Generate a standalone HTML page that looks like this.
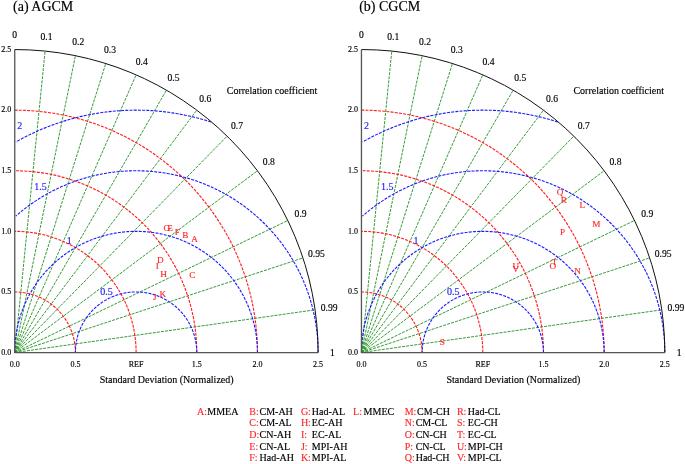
<!DOCTYPE html>
<html><head><meta charset="utf-8"><style>
html,body{margin:0;padding:0;background:#fff;}
svg{display:block;}
svg{font-family:"Liberation Serif", "Times New Roman", serif;fill:#000;}
</style></head><body>
<svg width="685" height="464" viewBox="0 0 685 464">
<line x1="14.75" y1="352.55" x2="45.09" y2="51.07" stroke="#2a962a" stroke-width="0.95" stroke-dasharray="3,1.1"/>
<line x1="14.75" y1="352.55" x2="75.42" y2="55.67" stroke="#2a962a" stroke-width="0.95" stroke-dasharray="3,1.1"/>
<line x1="14.75" y1="352.55" x2="105.76" y2="63.51" stroke="#2a962a" stroke-width="0.95" stroke-dasharray="3,1.1"/>
<line x1="14.75" y1="352.55" x2="136.10" y2="74.85" stroke="#2a962a" stroke-width="0.95" stroke-dasharray="3,1.1"/>
<line x1="14.75" y1="352.55" x2="166.44" y2="90.14" stroke="#2a962a" stroke-width="0.95" stroke-dasharray="3,1.1"/>
<line x1="14.75" y1="352.55" x2="196.77" y2="110.15" stroke="#2a962a" stroke-width="0.95" stroke-dasharray="3,1.1"/>
<line x1="14.75" y1="352.55" x2="227.11" y2="136.16" stroke="#2a962a" stroke-width="0.95" stroke-dasharray="3,1.1"/>
<line x1="14.75" y1="352.55" x2="257.45" y2="170.75" stroke="#2a962a" stroke-width="0.95" stroke-dasharray="3,1.1"/>
<line x1="14.75" y1="352.55" x2="287.79" y2="220.48" stroke="#2a962a" stroke-width="0.95" stroke-dasharray="3,1.1"/>
<line x1="14.75" y1="352.55" x2="302.96" y2="257.94" stroke="#2a962a" stroke-width="0.95" stroke-dasharray="3,1.1"/>
<line x1="14.75" y1="352.55" x2="315.09" y2="309.81" stroke="#2a962a" stroke-width="0.95" stroke-dasharray="3,1.1"/>
<path d="M75.42,352.55 A60.67,60.60 0 0 0 14.75,291.95" fill="none" stroke="#ff1a1a" stroke-width="1.1" stroke-dasharray="3,1.2"/>
<path d="M136.10,352.55 A121.35,121.20 0 0 0 14.75,231.35" fill="none" stroke="#ff1a1a" stroke-width="1.1" stroke-dasharray="3,1.2"/>
<path d="M196.77,352.55 A182.02,181.80 0 0 0 14.75,170.75" fill="none" stroke="#ff1a1a" stroke-width="1.1" stroke-dasharray="3,1.2"/>
<path d="M257.45,352.55 A242.70,242.40 0 0 0 14.75,110.15" fill="none" stroke="#ff1a1a" stroke-width="1.1" stroke-dasharray="3,1.2"/>
<path d="M196.77,352.55 L196.77,352.07 L196.77,351.60 L196.76,351.12 L196.75,350.65 L196.73,350.17 L196.71,349.70 L196.68,349.22 L196.66,348.74 L196.62,348.27 L196.59,347.80 L196.55,347.32 L196.51,346.85 L196.46,346.37 L196.41,345.90 L196.35,345.43 L196.30,344.95 L196.23,344.48 L196.17,344.01 L196.10,343.54 L196.03,343.07 L195.95,342.60 L195.87,342.13 L195.79,341.66 L195.70,341.19 L195.61,340.73 L195.51,340.26 L195.42,339.80 L195.31,339.33 L195.21,338.87 L195.10,338.40 L194.99,337.94 L194.87,337.48 L194.75,337.02 L194.62,336.56 L194.50,336.10 L194.37,335.64 L194.23,335.19 L194.09,334.73 L193.95,334.28 L193.81,333.82 L193.66,333.37 L193.50,332.92 L193.35,332.47 L193.19,332.02 L193.02,331.58 L192.86,331.13 L192.69,330.68 L192.51,330.24 L192.34,329.80 L192.16,329.36 L191.97,328.92 L191.78,328.48 L191.59,328.05 L191.40,327.61 L191.20,327.18 L191.00,326.75 L190.80,326.32 L190.59,325.89 L190.38,325.46 L190.16,325.04 L189.94,324.61 L189.72,324.19 L189.50,323.77 L189.27,323.36 L189.04,322.94 L188.80,322.53 L188.57,322.11 L188.33,321.70 L188.08,321.29 L187.83,320.89 L187.58,320.48 L187.33,320.08 L187.07,319.68 L186.81,319.28 L186.55,318.88 L186.28,318.49 L186.01,318.10 L185.74,317.70 L185.47,317.32 L185.19,316.93 L184.91,316.55 L184.62,316.16 L184.33,315.79 L184.04,315.41 L183.75,315.03 L183.45,314.66 L183.15,314.29 L182.85,313.92 L182.55,313.56 L182.24,313.19 L181.93,312.83 L181.61,312.47 L181.30,312.12 L180.98,311.77 L180.66,311.41 L180.33,311.07 L180.00,310.72 L179.67,310.38 L179.34,310.04 L179.00,309.70 L178.67,309.36 L178.32,309.03 L177.98,308.70 L177.63,308.37 L177.29,308.05 L176.94,307.73 L176.58,307.41 L176.23,307.09 L175.87,306.78 L175.51,306.47 L175.14,306.16 L174.78,305.86 L174.41,305.55 L174.04,305.26 L173.66,304.96 L173.29,304.67 L172.91,304.38 L172.53,304.09 L172.15,303.80 L171.76,303.52 L171.38,303.25 L170.99,302.97 L170.60,302.70 L170.20,302.43 L169.81,302.16 L169.41,301.90 L169.01,301.64 L168.61,301.38 L168.21,301.13 L167.80,300.88 L167.40,300.63 L166.99,300.39 L166.57,300.15 L166.16,299.91 L165.75,299.68 L165.33,299.45 L164.91,299.22 L164.49,298.99 L164.07,298.77 L163.65,298.56 L163.22,298.34 L162.79,298.13 L162.36,297.92 L161.93,297.72 L161.50,297.52 L161.07,297.32 L160.63,297.12 L160.20,296.93 L159.76,296.75 L159.32,296.56 L158.88,296.38 L158.44,296.21 L157.99,296.03 L157.55,295.86 L157.10,295.70 L156.65,295.53 L156.20,295.37 L155.75,295.22 L155.30,295.06 L154.85,294.92 L154.40,294.77 L153.94,294.63 L153.48,294.49 L153.03,294.36 L152.57,294.23 L152.11,294.10 L151.65,293.97 L151.19,293.85 L150.73,293.74 L150.26,293.62 L149.80,293.52 L149.34,293.41 L148.87,293.31 L148.40,293.21 L147.94,293.11 L147.47,293.02 L147.00,292.94 L146.53,292.85 L146.06,292.77 L145.59,292.70 L145.12,292.62 L144.65,292.55 L144.18,292.49 L143.70,292.43 L143.23,292.37 L142.76,292.32 L142.28,292.27 L141.81,292.22 L141.34,292.18 L140.86,292.14 L140.39,292.10 L139.91,292.07 L139.43,292.04 L138.96,292.02 L138.48,292.00 L138.01,291.98 L137.53,291.97 L137.05,291.96 L136.58,291.95 L136.10,291.95 L135.62,291.95 L135.15,291.96 L134.67,291.97 L134.19,291.98 L133.72,292.00 L133.24,292.02 L132.77,292.04 L132.29,292.07 L131.81,292.10 L131.34,292.14 L130.86,292.18 L130.39,292.22 L129.92,292.27 L129.44,292.32 L128.97,292.37 L128.50,292.43 L128.02,292.49 L127.55,292.55 L127.08,292.62 L126.61,292.70 L126.14,292.77 L125.67,292.85 L125.20,292.94 L124.73,293.02 L124.26,293.11 L123.80,293.21 L123.33,293.31 L122.86,293.41 L122.40,293.52 L121.94,293.62 L121.47,293.74 L121.01,293.85 L120.55,293.97 L120.09,294.10 L119.63,294.23 L119.17,294.36 L118.72,294.49 L118.26,294.63 L117.80,294.77 L117.35,294.92 L116.90,295.06 L116.45,295.22 L116.00,295.37 L115.55,295.53 L115.10,295.70 L114.65,295.86 L114.21,296.03 L113.76,296.21 L113.32,296.38 L112.88,296.56 L112.44,296.75 L112.00,296.93 L111.57,297.12 L111.13,297.32 L110.70,297.52 L110.27,297.72 L109.84,297.92 L109.41,298.13 L108.98,298.34 L108.55,298.56 L108.13,298.77 L107.71,298.99 L107.29,299.22 L106.87,299.45 L106.45,299.68 L106.04,299.91 L105.63,300.15 L105.21,300.39 L104.80,300.63 L104.40,300.88 L103.99,301.13 L103.59,301.38 L103.19,301.64 L102.79,301.90 L102.39,302.16 L102.00,302.43 L101.60,302.70 L101.21,302.97 L100.82,303.25 L100.44,303.52 L100.05,303.80 L99.67,304.09 L99.29,304.38 L98.91,304.67 L98.54,304.96 L98.16,305.26 L97.79,305.55 L97.42,305.86 L97.06,306.16 L96.69,306.47 L96.33,306.78 L95.97,307.09 L95.62,307.41 L95.26,307.73 L94.91,308.05 L94.57,308.37 L94.22,308.70 L93.88,309.03 L93.53,309.36 L93.20,309.70 L92.86,310.04 L92.53,310.38 L92.20,310.72 L91.87,311.07 L91.54,311.41 L91.22,311.77 L90.90,312.12 L90.59,312.47 L90.27,312.83 L89.96,313.19 L89.65,313.56 L89.35,313.92 L89.05,314.29 L88.75,314.66 L88.45,315.03 L88.16,315.41 L87.87,315.79 L87.58,316.16 L87.29,316.55 L87.01,316.93 L86.73,317.32 L86.46,317.70 L86.19,318.10 L85.92,318.49 L85.65,318.88 L85.39,319.28 L85.13,319.68 L84.87,320.08 L84.62,320.48 L84.37,320.89 L84.12,321.29 L83.87,321.70 L83.63,322.11 L83.40,322.53 L83.16,322.94 L82.93,323.36 L82.70,323.77 L82.48,324.19 L82.26,324.61 L82.04,325.04 L81.82,325.46 L81.61,325.89 L81.40,326.32 L81.20,326.75 L81.00,327.18 L80.80,327.61 L80.61,328.05 L80.42,328.48 L80.23,328.92 L80.04,329.36 L79.86,329.80 L79.69,330.24 L79.51,330.68 L79.34,331.13 L79.18,331.58 L79.01,332.02 L78.85,332.47 L78.70,332.92 L78.54,333.37 L78.39,333.82 L78.25,334.28 L78.11,334.73 L77.97,335.19 L77.83,335.64 L77.70,336.10 L77.58,336.56 L77.45,337.02 L77.33,337.48 L77.21,337.94 L77.10,338.40 L76.99,338.87 L76.89,339.33 L76.78,339.80 L76.69,340.26 L76.59,340.73 L76.50,341.19 L76.41,341.66 L76.33,342.13 L76.25,342.60 L76.17,343.07 L76.10,343.54 L76.03,344.01 L75.97,344.48 L75.90,344.95 L75.85,345.43 L75.79,345.90 L75.74,346.37 L75.69,346.85 L75.65,347.32 L75.61,347.80 L75.58,348.27 L75.54,348.74 L75.52,349.22 L75.49,349.70 L75.47,350.17 L75.45,350.65 L75.44,351.12 L75.43,351.60 L75.43,352.07 L75.42,352.55" fill="none" stroke="#1a1aff" stroke-width="1.1" stroke-dasharray="3,1.2"/>
<path d="M257.45,352.55 L257.45,351.60 L257.44,350.65 L257.42,349.69 L257.39,348.74 L257.36,347.79 L257.32,346.84 L257.27,345.89 L257.21,344.94 L257.15,343.99 L257.08,343.04 L257.00,342.09 L256.91,341.14 L256.82,340.20 L256.72,339.25 L256.61,338.30 L256.49,337.36 L256.37,336.42 L256.24,335.47 L256.10,334.53 L255.96,333.59 L255.80,332.65 L255.64,331.71 L255.48,330.78 L255.30,329.84 L255.12,328.91 L254.93,327.97 L254.73,327.04 L254.53,326.11 L254.32,325.18 L254.10,324.26 L253.87,323.33 L253.64,322.41 L253.40,321.49 L253.15,320.57 L252.89,319.65 L252.63,318.74 L252.36,317.82 L252.09,316.91 L251.80,316.00 L251.51,315.10 L251.21,314.19 L250.91,313.29 L250.60,312.39 L250.28,311.49 L249.95,310.60 L249.62,309.71 L249.28,308.82 L248.93,307.93 L248.57,307.05 L248.21,306.17 L247.84,305.29 L247.47,304.42 L247.09,303.54 L246.70,302.67 L246.30,301.81 L245.90,300.95 L245.49,300.09 L245.08,299.23 L244.65,298.38 L244.22,297.53 L243.79,296.68 L243.34,295.84 L242.90,295.00 L242.44,294.16 L241.98,293.33 L241.51,292.50 L241.03,291.68 L240.55,290.85 L240.06,290.04 L239.57,289.22 L239.07,288.41 L238.56,287.61 L238.05,286.81 L237.53,286.01 L237.00,285.21 L236.47,284.43 L235.93,283.64 L235.38,282.86 L234.83,282.08 L234.27,281.31 L233.71,280.54 L233.14,279.78 L232.57,279.02 L231.99,278.27 L231.40,277.52 L230.81,276.77 L230.21,276.03 L229.60,275.29 L228.99,274.56 L228.38,273.84 L227.75,273.12 L227.13,272.40 L226.49,271.69 L225.85,270.98 L225.21,270.28 L224.56,269.58 L223.91,268.89 L223.24,268.21 L222.58,267.52 L221.91,266.85 L221.23,266.18 L220.55,265.51 L219.86,264.85 L219.17,264.20 L218.47,263.55 L217.77,262.91 L217.06,262.27 L216.35,261.64 L215.63,261.01 L214.91,260.39 L214.18,259.77 L213.45,259.16 L212.71,258.56 L211.97,257.96 L211.23,257.37 L210.48,256.78 L209.72,256.20 L208.96,255.63 L208.20,255.06 L207.43,254.50 L206.65,253.94 L205.88,253.39 L205.09,252.85 L204.31,252.31 L203.52,251.78 L202.72,251.25 L201.93,250.73 L201.12,250.22 L200.32,249.71 L199.51,249.21 L198.69,248.72 L197.87,248.23 L197.05,247.75 L196.22,247.27 L195.39,246.80 L194.56,246.34 L193.72,245.89 L192.88,245.44 L192.04,245.00 L191.19,244.56 L190.34,244.13 L189.49,243.71 L188.63,243.29 L187.77,242.88 L186.90,242.48 L186.04,242.09 L185.17,241.70 L184.29,241.32 L183.42,240.94 L182.54,240.58 L181.66,240.21 L180.77,239.86 L179.88,239.51 L178.99,239.17 L178.10,238.84 L177.21,238.52 L176.31,238.20 L175.41,237.88 L174.50,237.58 L173.60,237.28 L172.69,236.99 L171.78,236.71 L170.87,236.43 L169.96,236.16 L169.04,235.90 L168.12,235.65 L167.20,235.40 L166.28,235.16 L165.35,234.92 L164.43,234.70 L163.50,234.48 L162.57,234.27 L161.64,234.06 L160.71,233.87 L159.77,233.68 L158.84,233.50 L157.90,233.32 L156.96,233.15 L156.02,232.99 L155.08,232.84 L154.14,232.70 L153.20,232.56 L152.25,232.43 L151.31,232.31 L150.36,232.19 L149.42,232.08 L148.47,231.98 L147.52,231.89 L146.57,231.80 L145.62,231.72 L144.67,231.65 L143.72,231.59 L142.77,231.53 L141.82,231.48 L140.86,231.44 L139.91,231.41 L138.96,231.38 L138.01,231.36 L137.05,231.35 L136.10,231.35 L135.15,231.35 L134.19,231.36 L133.24,231.38 L132.29,231.41 L131.34,231.44 L130.38,231.48 L129.43,231.53 L128.48,231.59 L127.53,231.65 L126.58,231.72 L125.63,231.80 L124.68,231.89 L123.73,231.98 L122.78,232.08 L121.84,232.19 L120.89,232.31 L119.95,232.43 L119.00,232.56 L118.06,232.70 L117.12,232.84 L116.18,232.99 L115.24,233.15 L114.30,233.32 L113.36,233.50 L112.43,233.68 L111.49,233.87 L110.56,234.06 L109.63,234.27 L108.70,234.48 L107.77,234.70 L106.85,234.92 L105.92,235.16 L105.00,235.40 L104.08,235.65 L103.16,235.90 L102.24,236.16 L101.33,236.43 L100.42,236.71 L99.51,236.99 L98.60,237.28 L97.70,237.58 L96.79,237.88 L95.89,238.20 L94.99,238.52 L94.10,238.84 L93.21,239.17 L92.32,239.51 L91.43,239.86 L90.54,240.21 L89.66,240.58 L88.78,240.94 L87.91,241.32 L87.03,241.70 L86.16,242.09 L85.30,242.48 L84.43,242.88 L83.57,243.29 L82.71,243.71 L81.86,244.13 L81.01,244.56 L80.16,245.00 L79.32,245.44 L78.48,245.89 L77.64,246.34 L76.81,246.80 L75.98,247.27 L75.15,247.75 L74.33,248.23 L73.51,248.72 L72.69,249.21 L71.88,249.71 L71.08,250.22 L70.27,250.73 L69.48,251.25 L68.68,251.78 L67.89,252.31 L67.11,252.85 L66.32,253.39 L65.55,253.94 L64.77,254.50 L64.00,255.06 L63.24,255.63 L62.48,256.20 L61.72,256.78 L60.97,257.37 L60.23,257.96 L59.49,258.56 L58.75,259.16 L58.02,259.77 L57.29,260.39 L56.57,261.01 L55.85,261.64 L55.14,262.27 L54.43,262.91 L53.73,263.55 L53.03,264.20 L52.34,264.85 L51.65,265.51 L50.97,266.18 L50.29,266.85 L49.62,267.52 L48.96,268.21 L48.29,268.89 L47.64,269.58 L46.99,270.28 L46.35,270.98 L45.71,271.69 L45.07,272.40 L44.45,273.12 L43.82,273.84 L43.21,274.56 L42.60,275.29 L41.99,276.03 L41.39,276.77 L40.80,277.52 L40.21,278.27 L39.63,279.02 L39.06,279.78 L38.49,280.54 L37.93,281.31 L37.37,282.08 L36.82,282.86 L36.27,283.64 L35.73,284.43 L35.20,285.21 L34.67,286.01 L34.15,286.81 L33.64,287.61 L33.13,288.41 L32.63,289.22 L32.14,290.04 L31.65,290.85 L31.17,291.68 L30.69,292.50 L30.22,293.33 L29.76,294.16 L29.30,295.00 L28.86,295.84 L28.41,296.68 L27.98,297.53 L27.55,298.38 L27.12,299.23 L26.71,300.09 L26.30,300.95 L25.90,301.81 L25.50,302.67 L25.11,303.54 L24.73,304.42 L24.36,305.29 L23.99,306.17 L23.63,307.05 L23.27,307.93 L22.92,308.82 L22.58,309.71 L22.25,310.60 L21.92,311.49 L21.60,312.39 L21.29,313.29 L20.99,314.19 L20.69,315.10 L20.40,316.00 L20.11,316.91 L19.84,317.82 L19.57,318.74 L19.31,319.65 L19.05,320.57 L18.80,321.49 L18.56,322.41 L18.33,323.33 L18.10,324.26 L17.88,325.18 L17.67,326.11 L17.47,327.04 L17.27,327.97 L17.08,328.91 L16.90,329.84 L16.72,330.78 L16.56,331.71 L16.40,332.65 L16.24,333.59 L16.10,334.53 L15.96,335.47 L15.83,336.42 L15.71,337.36 L15.59,338.30 L15.48,339.25 L15.38,340.20 L15.29,341.14 L15.20,342.09 L15.12,343.04 L15.05,343.99 L14.99,344.94 L14.93,345.89 L14.88,346.84 L14.84,347.79 L14.81,348.74 L14.78,349.69 L14.76,350.65 L14.75,351.60 L14.75,352.55" fill="none" stroke="#1a1aff" stroke-width="1.1" stroke-dasharray="3,1.2"/>
<path d="M318.12,352.55 L318.12,351.12 L318.10,349.69 L318.07,348.27 L318.04,346.84 L317.98,345.41 L317.92,343.99 L317.85,342.56 L317.77,341.13 L317.67,339.71 L317.56,338.29 L317.45,336.86 L317.32,335.44 L317.18,334.02 L317.03,332.60 L316.86,331.18 L316.69,329.76 L316.50,328.35 L316.31,326.93 L316.10,325.52 L315.88,324.11 L315.65,322.70 L315.41,321.29 L315.16,319.89 L314.90,318.48 L314.63,317.08 L314.34,315.68 L314.05,314.29 L313.74,312.89 L313.42,311.50 L313.10,310.11 L312.76,308.72 L312.41,307.34 L312.05,305.96 L311.67,304.58 L311.29,303.20 L310.90,301.83 L310.49,300.46 L310.08,299.09 L309.65,297.73 L309.22,296.37 L308.77,295.01 L308.31,293.66 L307.84,292.31 L307.36,290.97 L306.87,289.63 L306.37,288.29 L305.86,286.95 L305.34,285.62 L304.81,284.30 L304.27,282.98 L303.72,281.66 L303.15,280.35 L302.58,279.04 L302.00,277.74 L301.40,276.44 L300.80,275.14 L300.19,273.85 L299.56,272.57 L298.93,271.29 L298.29,270.01 L297.63,268.74 L296.97,267.48 L296.29,266.22 L295.61,264.97 L294.92,263.72 L294.21,262.48 L293.50,261.24 L292.78,260.01 L292.04,258.78 L291.30,257.56 L290.55,256.35 L289.79,255.14 L289.02,253.93 L288.24,252.74 L287.45,251.55 L286.65,250.36 L285.84,249.19 L285.02,248.01 L284.20,246.85 L283.36,245.69 L282.52,244.54 L281.66,243.39 L280.80,242.26 L279.93,241.12 L279.05,240.00 L278.16,238.88 L277.26,237.77 L276.35,236.67 L275.44,235.57 L274.51,234.48 L273.58,233.40 L272.64,232.32 L271.69,231.26 L270.73,230.20 L269.77,229.14 L268.79,228.10 L267.81,227.06 L266.82,226.03 L265.82,225.01 L264.81,224.00 L263.80,222.99 L262.77,221.99 L261.74,221.01 L260.70,220.02 L259.66,219.05 L258.61,218.09 L257.54,217.13 L256.48,216.18 L255.40,215.24 L254.32,214.31 L253.23,213.39 L252.13,212.47 L251.02,211.56 L249.91,210.67 L248.79,209.78 L247.66,208.90 L246.53,208.03 L245.39,207.17 L244.24,206.31 L243.09,205.47 L241.93,204.64 L240.77,203.81 L239.59,202.99 L238.41,202.19 L237.23,201.39 L236.04,200.60 L234.84,199.82 L233.63,199.05 L232.42,198.29 L231.21,197.54 L229.99,196.80 L228.76,196.07 L227.52,195.35 L226.29,194.63 L225.04,193.93 L223.79,193.24 L222.54,192.55 L221.27,191.88 L220.01,191.22 L218.74,190.57 L217.46,189.92 L216.18,189.29 L214.89,188.67 L213.60,188.05 L212.31,187.45 L211.01,186.86 L209.70,186.27 L208.39,185.70 L207.08,185.14 L205.76,184.59 L204.44,184.05 L203.11,183.52 L201.78,183.00 L200.44,182.49 L199.10,181.99 L197.76,181.50 L196.41,181.02 L195.06,180.55 L193.71,180.09 L192.35,179.65 L190.99,179.21 L189.62,178.79 L188.25,178.37 L186.88,177.97 L185.51,177.58 L184.13,177.19 L182.75,176.82 L181.37,176.46 L179.98,176.11 L178.59,175.77 L177.20,175.45 L175.81,175.13 L174.41,174.82 L173.01,174.53 L171.61,174.24 L170.21,173.97 L168.80,173.71 L167.40,173.46 L165.99,173.22 L164.57,172.99 L163.16,172.77 L161.75,172.56 L160.33,172.37 L158.91,172.18 L157.49,172.01 L156.07,171.85 L154.65,171.70 L153.23,171.56 L151.81,171.43 L150.38,171.31 L148.96,171.20 L147.53,171.11 L146.10,171.02 L144.67,170.95 L143.25,170.89 L141.82,170.84 L140.39,170.80 L138.96,170.77 L137.53,170.76 L136.10,170.75 L134.67,170.76 L133.24,170.77 L131.81,170.80 L130.38,170.84 L128.95,170.89 L127.53,170.95 L126.10,171.02 L124.67,171.11 L123.24,171.20 L121.82,171.31 L120.39,171.43 L118.97,171.56 L117.55,171.70 L116.13,171.85 L114.71,172.01 L113.29,172.18 L111.87,172.37 L110.45,172.56 L109.04,172.77 L107.63,172.99 L106.21,173.22 L104.80,173.46 L103.40,173.71 L101.99,173.97 L100.59,174.24 L99.19,174.53 L97.79,174.82 L96.39,175.13 L95.00,175.45 L93.61,175.77 L92.22,176.11 L90.83,176.46 L89.45,176.82 L88.07,177.19 L86.69,177.58 L85.32,177.97 L83.95,178.37 L82.58,178.79 L81.21,179.21 L79.85,179.65 L78.49,180.09 L77.14,180.55 L75.79,181.02 L74.44,181.50 L73.10,181.99 L71.76,182.49 L70.42,183.00 L69.09,183.52 L67.76,184.05 L66.44,184.59 L65.12,185.14 L63.81,185.70 L62.50,186.27 L61.19,186.86 L59.89,187.45 L58.60,188.05 L57.31,188.67 L56.02,189.29 L54.74,189.92 L53.46,190.57 L52.19,191.22 L50.93,191.88 L49.66,192.55 L48.41,193.24 L47.16,193.93 L45.91,194.63 L44.68,195.35 L43.44,196.07 L42.21,196.80 L40.99,197.54 L39.78,198.29 L38.57,199.05 L37.36,199.82 L36.16,200.60 L34.97,201.39 L33.79,202.19 L32.61,202.99 L31.43,203.81 L30.27,204.64 L29.11,205.47 L27.96,206.31 L26.81,207.17 L25.67,208.03 L24.54,208.90 L23.41,209.78 L22.29,210.67 L21.18,211.56 L20.07,212.47 L18.97,213.39 L17.88,214.31 L16.80,215.24 L15.72,216.18" fill="none" stroke="#1a1aff" stroke-width="1.1" stroke-dasharray="3,1.2"/>
<path d="M211.10,122.01 L209.28,121.43 L207.46,120.87 L205.64,120.31 L203.81,119.77 L201.98,119.25 L200.14,118.74 L198.30,118.25 L196.46,117.77 L194.61,117.30 L192.76,116.85 L190.90,116.41 L189.04,115.99 L187.18,115.58 L185.32,115.19 L183.45,114.81 L181.58,114.44 L179.70,114.09 L177.83,113.76 L175.95,113.44 L174.07,113.13 L172.18,112.84 L170.30,112.57 L168.41,112.31 L166.52,112.06 L164.63,111.83 L162.73,111.61 L160.84,111.41 L158.94,111.23 L157.04,111.05 L155.14,110.90 L153.24,110.76 L151.34,110.63 L149.44,110.52 L147.53,110.42 L145.63,110.34 L143.72,110.27 L141.82,110.22 L139.91,110.18 L138.01,110.16 L136.10,110.15 L134.19,110.16 L132.29,110.18 L130.38,110.22 L128.48,110.27 L126.57,110.34 L124.67,110.42 L122.76,110.52 L120.86,110.63 L118.96,110.76 L117.06,110.90 L115.16,111.05 L113.26,111.23 L111.36,111.41 L109.47,111.61 L107.57,111.83 L105.68,112.06 L103.79,112.31 L101.90,112.57 L100.02,112.84 L98.13,113.13 L96.25,113.44 L94.37,113.76 L92.50,114.09 L90.62,114.44 L88.75,114.81 L86.88,115.19 L85.02,115.58 L83.16,115.99 L81.30,116.41 L79.44,116.85 L77.59,117.30 L75.74,117.77 L73.90,118.25 L72.06,118.74 L70.22,119.25 L68.39,119.77 L66.56,120.31 L64.74,120.87 L62.92,121.43 L61.10,122.01 L59.29,122.61 L57.49,123.22 L55.68,123.84 L53.89,124.48 L52.10,125.13 L50.31,125.80 L48.53,126.48 L46.76,127.17 L44.99,127.88 L43.22,128.60 L41.46,129.34 L39.71,130.09 L37.97,130.85 L36.23,131.63 L34.49,132.42 L32.76,133.22 L31.04,134.04 L29.33,134.87 L27.62,135.71 L25.92,136.57 L24.22,137.44 L22.53,138.33 L20.85,139.22 L19.18,140.13 L17.51,141.06 L15.85,141.99" fill="none" stroke="#1a1aff" stroke-width="1.1" stroke-dasharray="3,1.2"/>
<path d="M318.12,352.55 A303.38,303.00 0 0 0 14.75,49.55" fill="none" stroke="#111" stroke-width="1"/>
<line x1="14.75" y1="352.55" x2="14.75" y2="49.55" stroke="#555" stroke-width="1.3"/>
<line x1="14.75" y1="352.55" x2="318.12" y2="352.55" stroke="#555" stroke-width="1.3"/>
<text x="11.25" y="354.70" font-size="8" text-anchor="end" stroke="#000" stroke-width="0.15">0.0</text>
<text x="11.25" y="294.10" font-size="8" text-anchor="end" stroke="#000" stroke-width="0.15">0.5</text>
<text x="11.25" y="233.50" font-size="8" text-anchor="end" stroke="#000" stroke-width="0.15">1.0</text>
<text x="11.25" y="172.90" font-size="8" text-anchor="end" stroke="#000" stroke-width="0.15">1.5</text>
<text x="11.25" y="112.30" font-size="8" text-anchor="end" stroke="#000" stroke-width="0.15">2.0</text>
<text x="11.25" y="51.70" font-size="8" text-anchor="end" stroke="#000" stroke-width="0.15">2.5</text>
<text x="14.75" y="367.00" font-size="8" text-anchor="middle" stroke="#000" stroke-width="0.15">0.0</text>
<text x="75.42" y="367.00" font-size="8" text-anchor="middle" stroke="#000" stroke-width="0.15">0.5</text>
<text x="136.10" y="367.00" font-size="8" text-anchor="middle" stroke="#000" stroke-width="0.15">REF</text>
<text x="196.77" y="367.00" font-size="8" text-anchor="middle" stroke="#000" stroke-width="0.15">1.5</text>
<text x="257.45" y="367.00" font-size="8" text-anchor="middle" stroke="#000" stroke-width="0.15">2.0</text>
<text x="318.12" y="367.00" font-size="8" text-anchor="middle" stroke="#000" stroke-width="0.15">2.5</text>
<text x="14.75" y="38.25" font-size="9.6" text-anchor="middle" stroke="#000" stroke-width="0.15">0</text>
<text x="46.51" y="39.84" font-size="9.6" text-anchor="middle" stroke="#000" stroke-width="0.15">0.1</text>
<text x="78.27" y="44.67" font-size="9.6" text-anchor="middle" stroke="#000" stroke-width="0.15">0.2</text>
<text x="110.03" y="52.88" font-size="9.6" text-anchor="middle" stroke="#000" stroke-width="0.15">0.3</text>
<text x="141.79" y="64.76" font-size="9.6" text-anchor="middle" stroke="#000" stroke-width="0.15">0.4</text>
<text x="173.55" y="80.80" font-size="9.6" text-anchor="middle" stroke="#000" stroke-width="0.15">0.5</text>
<text x="205.31" y="101.77" font-size="9.6" text-anchor="middle" stroke="#000" stroke-width="0.15">0.6</text>
<text x="237.07" y="129.04" font-size="9.6" text-anchor="middle" stroke="#000" stroke-width="0.15">0.7</text>
<text x="268.83" y="165.29" font-size="9.6" text-anchor="middle" stroke="#000" stroke-width="0.15">0.8</text>
<text x="300.59" y="217.41" font-size="9.6" text-anchor="middle" stroke="#000" stroke-width="0.15">0.9</text>
<text x="316.47" y="256.68" font-size="9.6" text-anchor="middle" stroke="#000" stroke-width="0.15">0.95</text>
<text x="329.17" y="311.05" font-size="9.6" text-anchor="middle" stroke="#000" stroke-width="0.15">0.99</text>
<text x="332.35" y="355.85" font-size="9.6" text-anchor="middle" stroke="#000" stroke-width="0.15">1</text>
<line x1="361.45" y1="352.55" x2="391.79" y2="51.07" stroke="#2a962a" stroke-width="0.95" stroke-dasharray="3,1.1"/>
<line x1="361.45" y1="352.55" x2="422.12" y2="55.67" stroke="#2a962a" stroke-width="0.95" stroke-dasharray="3,1.1"/>
<line x1="361.45" y1="352.55" x2="452.46" y2="63.51" stroke="#2a962a" stroke-width="0.95" stroke-dasharray="3,1.1"/>
<line x1="361.45" y1="352.55" x2="482.80" y2="74.85" stroke="#2a962a" stroke-width="0.95" stroke-dasharray="3,1.1"/>
<line x1="361.45" y1="352.55" x2="513.14" y2="90.14" stroke="#2a962a" stroke-width="0.95" stroke-dasharray="3,1.1"/>
<line x1="361.45" y1="352.55" x2="543.47" y2="110.15" stroke="#2a962a" stroke-width="0.95" stroke-dasharray="3,1.1"/>
<line x1="361.45" y1="352.55" x2="573.81" y2="136.16" stroke="#2a962a" stroke-width="0.95" stroke-dasharray="3,1.1"/>
<line x1="361.45" y1="352.55" x2="604.15" y2="170.75" stroke="#2a962a" stroke-width="0.95" stroke-dasharray="3,1.1"/>
<line x1="361.45" y1="352.55" x2="634.49" y2="220.48" stroke="#2a962a" stroke-width="0.95" stroke-dasharray="3,1.1"/>
<line x1="361.45" y1="352.55" x2="649.66" y2="257.94" stroke="#2a962a" stroke-width="0.95" stroke-dasharray="3,1.1"/>
<line x1="361.45" y1="352.55" x2="661.79" y2="309.81" stroke="#2a962a" stroke-width="0.95" stroke-dasharray="3,1.1"/>
<path d="M422.12,352.55 A60.67,60.60 0 0 0 361.45,291.95" fill="none" stroke="#ff1a1a" stroke-width="1.1" stroke-dasharray="3,1.2"/>
<path d="M482.80,352.55 A121.35,121.20 0 0 0 361.45,231.35" fill="none" stroke="#ff1a1a" stroke-width="1.1" stroke-dasharray="3,1.2"/>
<path d="M543.47,352.55 A182.02,181.80 0 0 0 361.45,170.75" fill="none" stroke="#ff1a1a" stroke-width="1.1" stroke-dasharray="3,1.2"/>
<path d="M604.15,352.55 A242.70,242.40 0 0 0 361.45,110.15" fill="none" stroke="#ff1a1a" stroke-width="1.1" stroke-dasharray="3,1.2"/>
<path d="M543.47,352.55 L543.47,352.07 L543.47,351.60 L543.46,351.12 L543.45,350.65 L543.43,350.17 L543.41,349.70 L543.38,349.22 L543.36,348.74 L543.32,348.27 L543.29,347.80 L543.25,347.32 L543.21,346.85 L543.16,346.37 L543.11,345.90 L543.05,345.43 L543.00,344.95 L542.93,344.48 L542.87,344.01 L542.80,343.54 L542.73,343.07 L542.65,342.60 L542.57,342.13 L542.49,341.66 L542.40,341.19 L542.31,340.73 L542.21,340.26 L542.12,339.80 L542.01,339.33 L541.91,338.87 L541.80,338.40 L541.69,337.94 L541.57,337.48 L541.45,337.02 L541.32,336.56 L541.20,336.10 L541.07,335.64 L540.93,335.19 L540.79,334.73 L540.65,334.28 L540.51,333.82 L540.36,333.37 L540.20,332.92 L540.05,332.47 L539.89,332.02 L539.72,331.58 L539.56,331.13 L539.39,330.68 L539.21,330.24 L539.04,329.80 L538.86,329.36 L538.67,328.92 L538.48,328.48 L538.29,328.05 L538.10,327.61 L537.90,327.18 L537.70,326.75 L537.50,326.32 L537.29,325.89 L537.08,325.46 L536.86,325.04 L536.64,324.61 L536.42,324.19 L536.20,323.77 L535.97,323.36 L535.74,322.94 L535.50,322.53 L535.27,322.11 L535.03,321.70 L534.78,321.29 L534.53,320.89 L534.28,320.48 L534.03,320.08 L533.77,319.68 L533.51,319.28 L533.25,318.88 L532.98,318.49 L532.71,318.10 L532.44,317.70 L532.17,317.32 L531.89,316.93 L531.61,316.55 L531.32,316.16 L531.03,315.79 L530.74,315.41 L530.45,315.03 L530.15,314.66 L529.85,314.29 L529.55,313.92 L529.25,313.56 L528.94,313.19 L528.63,312.83 L528.31,312.47 L528.00,312.12 L527.68,311.77 L527.36,311.41 L527.03,311.07 L526.70,310.72 L526.37,310.38 L526.04,310.04 L525.70,309.70 L525.37,309.36 L525.02,309.03 L524.68,308.70 L524.33,308.37 L523.99,308.05 L523.64,307.73 L523.28,307.41 L522.93,307.09 L522.57,306.78 L522.21,306.47 L521.84,306.16 L521.48,305.86 L521.11,305.55 L520.74,305.26 L520.36,304.96 L519.99,304.67 L519.61,304.38 L519.23,304.09 L518.85,303.80 L518.46,303.52 L518.08,303.25 L517.69,302.97 L517.30,302.70 L516.90,302.43 L516.51,302.16 L516.11,301.90 L515.71,301.64 L515.31,301.38 L514.91,301.13 L514.50,300.88 L514.10,300.63 L513.69,300.39 L513.27,300.15 L512.86,299.91 L512.45,299.68 L512.03,299.45 L511.61,299.22 L511.19,298.99 L510.77,298.77 L510.35,298.56 L509.92,298.34 L509.49,298.13 L509.06,297.92 L508.63,297.72 L508.20,297.52 L507.77,297.32 L507.33,297.12 L506.90,296.93 L506.46,296.75 L506.02,296.56 L505.58,296.38 L505.14,296.21 L504.69,296.03 L504.25,295.86 L503.80,295.70 L503.35,295.53 L502.90,295.37 L502.45,295.22 L502.00,295.06 L501.55,294.92 L501.10,294.77 L500.64,294.63 L500.18,294.49 L499.73,294.36 L499.27,294.23 L498.81,294.10 L498.35,293.97 L497.89,293.85 L497.43,293.74 L496.96,293.62 L496.50,293.52 L496.04,293.41 L495.57,293.31 L495.10,293.21 L494.64,293.11 L494.17,293.02 L493.70,292.94 L493.23,292.85 L492.76,292.77 L492.29,292.70 L491.82,292.62 L491.35,292.55 L490.88,292.49 L490.40,292.43 L489.93,292.37 L489.46,292.32 L488.98,292.27 L488.51,292.22 L488.04,292.18 L487.56,292.14 L487.09,292.10 L486.61,292.07 L486.13,292.04 L485.66,292.02 L485.18,292.00 L484.71,291.98 L484.23,291.97 L483.75,291.96 L483.28,291.95 L482.80,291.95 L482.32,291.95 L481.85,291.96 L481.37,291.97 L480.89,291.98 L480.42,292.00 L479.94,292.02 L479.47,292.04 L478.99,292.07 L478.51,292.10 L478.04,292.14 L477.56,292.18 L477.09,292.22 L476.62,292.27 L476.14,292.32 L475.67,292.37 L475.20,292.43 L474.72,292.49 L474.25,292.55 L473.78,292.62 L473.31,292.70 L472.84,292.77 L472.37,292.85 L471.90,292.94 L471.43,293.02 L470.96,293.11 L470.50,293.21 L470.03,293.31 L469.56,293.41 L469.10,293.52 L468.64,293.62 L468.17,293.74 L467.71,293.85 L467.25,293.97 L466.79,294.10 L466.33,294.23 L465.87,294.36 L465.42,294.49 L464.96,294.63 L464.50,294.77 L464.05,294.92 L463.60,295.06 L463.15,295.22 L462.70,295.37 L462.25,295.53 L461.80,295.70 L461.35,295.86 L460.91,296.03 L460.46,296.21 L460.02,296.38 L459.58,296.56 L459.14,296.75 L458.70,296.93 L458.27,297.12 L457.83,297.32 L457.40,297.52 L456.97,297.72 L456.54,297.92 L456.11,298.13 L455.68,298.34 L455.25,298.56 L454.83,298.77 L454.41,298.99 L453.99,299.22 L453.57,299.45 L453.15,299.68 L452.74,299.91 L452.33,300.15 L451.91,300.39 L451.50,300.63 L451.10,300.88 L450.69,301.13 L450.29,301.38 L449.89,301.64 L449.49,301.90 L449.09,302.16 L448.70,302.43 L448.30,302.70 L447.91,302.97 L447.52,303.25 L447.14,303.52 L446.75,303.80 L446.37,304.09 L445.99,304.38 L445.61,304.67 L445.24,304.96 L444.86,305.26 L444.49,305.55 L444.12,305.86 L443.76,306.16 L443.39,306.47 L443.03,306.78 L442.67,307.09 L442.32,307.41 L441.96,307.73 L441.61,308.05 L441.27,308.37 L440.92,308.70 L440.58,309.03 L440.23,309.36 L439.90,309.70 L439.56,310.04 L439.23,310.38 L438.90,310.72 L438.57,311.07 L438.24,311.41 L437.92,311.77 L437.60,312.12 L437.29,312.47 L436.97,312.83 L436.66,313.19 L436.35,313.56 L436.05,313.92 L435.75,314.29 L435.45,314.66 L435.15,315.03 L434.86,315.41 L434.57,315.79 L434.28,316.16 L433.99,316.55 L433.71,316.93 L433.43,317.32 L433.16,317.70 L432.89,318.10 L432.62,318.49 L432.35,318.88 L432.09,319.28 L431.83,319.68 L431.57,320.08 L431.32,320.48 L431.07,320.89 L430.82,321.29 L430.57,321.70 L430.33,322.11 L430.10,322.53 L429.86,322.94 L429.63,323.36 L429.40,323.77 L429.18,324.19 L428.96,324.61 L428.74,325.04 L428.52,325.46 L428.31,325.89 L428.10,326.32 L427.90,326.75 L427.70,327.18 L427.50,327.61 L427.31,328.05 L427.12,328.48 L426.93,328.92 L426.74,329.36 L426.56,329.80 L426.39,330.24 L426.21,330.68 L426.04,331.13 L425.88,331.58 L425.71,332.02 L425.55,332.47 L425.40,332.92 L425.24,333.37 L425.09,333.82 L424.95,334.28 L424.81,334.73 L424.67,335.19 L424.53,335.64 L424.40,336.10 L424.28,336.56 L424.15,337.02 L424.03,337.48 L423.91,337.94 L423.80,338.40 L423.69,338.87 L423.59,339.33 L423.48,339.80 L423.39,340.26 L423.29,340.73 L423.20,341.19 L423.11,341.66 L423.03,342.13 L422.95,342.60 L422.87,343.07 L422.80,343.54 L422.73,344.01 L422.67,344.48 L422.60,344.95 L422.55,345.43 L422.49,345.90 L422.44,346.37 L422.39,346.85 L422.35,347.32 L422.31,347.80 L422.28,348.27 L422.24,348.74 L422.22,349.22 L422.19,349.70 L422.17,350.17 L422.15,350.65 L422.14,351.12 L422.13,351.60 L422.13,352.07 L422.12,352.55" fill="none" stroke="#1a1aff" stroke-width="1.1" stroke-dasharray="3,1.2"/>
<path d="M604.15,352.55 L604.15,351.60 L604.14,350.65 L604.12,349.69 L604.09,348.74 L604.06,347.79 L604.02,346.84 L603.97,345.89 L603.91,344.94 L603.85,343.99 L603.78,343.04 L603.70,342.09 L603.61,341.14 L603.52,340.20 L603.42,339.25 L603.31,338.30 L603.19,337.36 L603.07,336.42 L602.94,335.47 L602.80,334.53 L602.66,333.59 L602.50,332.65 L602.34,331.71 L602.18,330.78 L602.00,329.84 L601.82,328.91 L601.63,327.97 L601.43,327.04 L601.23,326.11 L601.02,325.18 L600.80,324.26 L600.57,323.33 L600.34,322.41 L600.10,321.49 L599.85,320.57 L599.59,319.65 L599.33,318.74 L599.06,317.82 L598.79,316.91 L598.50,316.00 L598.21,315.10 L597.91,314.19 L597.61,313.29 L597.30,312.39 L596.98,311.49 L596.65,310.60 L596.32,309.71 L595.98,308.82 L595.63,307.93 L595.27,307.05 L594.91,306.17 L594.54,305.29 L594.17,304.42 L593.79,303.54 L593.40,302.67 L593.00,301.81 L592.60,300.95 L592.19,300.09 L591.78,299.23 L591.35,298.38 L590.92,297.53 L590.49,296.68 L590.04,295.84 L589.60,295.00 L589.14,294.16 L588.68,293.33 L588.21,292.50 L587.73,291.68 L587.25,290.85 L586.76,290.04 L586.27,289.22 L585.77,288.41 L585.26,287.61 L584.75,286.81 L584.23,286.01 L583.70,285.21 L583.17,284.43 L582.63,283.64 L582.08,282.86 L581.53,282.08 L580.97,281.31 L580.41,280.54 L579.84,279.78 L579.27,279.02 L578.69,278.27 L578.10,277.52 L577.51,276.77 L576.91,276.03 L576.30,275.29 L575.69,274.56 L575.08,273.84 L574.45,273.12 L573.83,272.40 L573.19,271.69 L572.55,270.98 L571.91,270.28 L571.26,269.58 L570.61,268.89 L569.94,268.21 L569.28,267.52 L568.61,266.85 L567.93,266.18 L567.25,265.51 L566.56,264.85 L565.87,264.20 L565.17,263.55 L564.47,262.91 L563.76,262.27 L563.05,261.64 L562.33,261.01 L561.61,260.39 L560.88,259.77 L560.15,259.16 L559.41,258.56 L558.67,257.96 L557.93,257.37 L557.18,256.78 L556.42,256.20 L555.66,255.63 L554.90,255.06 L554.13,254.50 L553.35,253.94 L552.58,253.39 L551.79,252.85 L551.01,252.31 L550.22,251.78 L549.42,251.25 L548.63,250.73 L547.82,250.22 L547.02,249.71 L546.21,249.21 L545.39,248.72 L544.57,248.23 L543.75,247.75 L542.92,247.27 L542.09,246.80 L541.26,246.34 L540.42,245.89 L539.58,245.44 L538.74,245.00 L537.89,244.56 L537.04,244.13 L536.19,243.71 L535.33,243.29 L534.47,242.88 L533.60,242.48 L532.74,242.09 L531.87,241.70 L530.99,241.32 L530.12,240.94 L529.24,240.58 L528.36,240.21 L527.47,239.86 L526.58,239.51 L525.69,239.17 L524.80,238.84 L523.91,238.52 L523.01,238.20 L522.11,237.88 L521.20,237.58 L520.30,237.28 L519.39,236.99 L518.48,236.71 L517.57,236.43 L516.66,236.16 L515.74,235.90 L514.82,235.65 L513.90,235.40 L512.98,235.16 L512.05,234.92 L511.13,234.70 L510.20,234.48 L509.27,234.27 L508.34,234.06 L507.41,233.87 L506.47,233.68 L505.54,233.50 L504.60,233.32 L503.66,233.15 L502.72,232.99 L501.78,232.84 L500.84,232.70 L499.90,232.56 L498.95,232.43 L498.01,232.31 L497.06,232.19 L496.12,232.08 L495.17,231.98 L494.22,231.89 L493.27,231.80 L492.32,231.72 L491.37,231.65 L490.42,231.59 L489.47,231.53 L488.52,231.48 L487.56,231.44 L486.61,231.41 L485.66,231.38 L484.71,231.36 L483.75,231.35 L482.80,231.35 L481.85,231.35 L480.89,231.36 L479.94,231.38 L478.99,231.41 L478.04,231.44 L477.08,231.48 L476.13,231.53 L475.18,231.59 L474.23,231.65 L473.28,231.72 L472.33,231.80 L471.38,231.89 L470.43,231.98 L469.48,232.08 L468.54,232.19 L467.59,232.31 L466.65,232.43 L465.70,232.56 L464.76,232.70 L463.82,232.84 L462.88,232.99 L461.94,233.15 L461.00,233.32 L460.06,233.50 L459.13,233.68 L458.19,233.87 L457.26,234.06 L456.33,234.27 L455.40,234.48 L454.47,234.70 L453.55,234.92 L452.62,235.16 L451.70,235.40 L450.78,235.65 L449.86,235.90 L448.94,236.16 L448.03,236.43 L447.12,236.71 L446.21,236.99 L445.30,237.28 L444.40,237.58 L443.49,237.88 L442.59,238.20 L441.69,238.52 L440.80,238.84 L439.91,239.17 L439.02,239.51 L438.13,239.86 L437.24,240.21 L436.36,240.58 L435.48,240.94 L434.61,241.32 L433.73,241.70 L432.86,242.09 L432.00,242.48 L431.13,242.88 L430.27,243.29 L429.41,243.71 L428.56,244.13 L427.71,244.56 L426.86,245.00 L426.02,245.44 L425.18,245.89 L424.34,246.34 L423.51,246.80 L422.68,247.27 L421.85,247.75 L421.03,248.23 L420.21,248.72 L419.39,249.21 L418.58,249.71 L417.78,250.22 L416.97,250.73 L416.18,251.25 L415.38,251.78 L414.59,252.31 L413.81,252.85 L413.02,253.39 L412.25,253.94 L411.47,254.50 L410.70,255.06 L409.94,255.63 L409.18,256.20 L408.42,256.78 L407.67,257.37 L406.93,257.96 L406.19,258.56 L405.45,259.16 L404.72,259.77 L403.99,260.39 L403.27,261.01 L402.55,261.64 L401.84,262.27 L401.13,262.91 L400.43,263.55 L399.73,264.20 L399.04,264.85 L398.35,265.51 L397.67,266.18 L396.99,266.85 L396.32,267.52 L395.66,268.21 L394.99,268.89 L394.34,269.58 L393.69,270.28 L393.05,270.98 L392.41,271.69 L391.77,272.40 L391.15,273.12 L390.52,273.84 L389.91,274.56 L389.30,275.29 L388.69,276.03 L388.09,276.77 L387.50,277.52 L386.91,278.27 L386.33,279.02 L385.76,279.78 L385.19,280.54 L384.63,281.31 L384.07,282.08 L383.52,282.86 L382.97,283.64 L382.43,284.43 L381.90,285.21 L381.37,286.01 L380.85,286.81 L380.34,287.61 L379.83,288.41 L379.33,289.22 L378.84,290.04 L378.35,290.85 L377.87,291.68 L377.39,292.50 L376.92,293.33 L376.46,294.16 L376.00,295.00 L375.56,295.84 L375.11,296.68 L374.68,297.53 L374.25,298.38 L373.82,299.23 L373.41,300.09 L373.00,300.95 L372.60,301.81 L372.20,302.67 L371.81,303.54 L371.43,304.42 L371.06,305.29 L370.69,306.17 L370.33,307.05 L369.97,307.93 L369.62,308.82 L369.28,309.71 L368.95,310.60 L368.62,311.49 L368.30,312.39 L367.99,313.29 L367.69,314.19 L367.39,315.10 L367.10,316.00 L366.81,316.91 L366.54,317.82 L366.27,318.74 L366.01,319.65 L365.75,320.57 L365.50,321.49 L365.26,322.41 L365.03,323.33 L364.80,324.26 L364.58,325.18 L364.37,326.11 L364.17,327.04 L363.97,327.97 L363.78,328.91 L363.60,329.84 L363.42,330.78 L363.26,331.71 L363.10,332.65 L362.94,333.59 L362.80,334.53 L362.66,335.47 L362.53,336.42 L362.41,337.36 L362.29,338.30 L362.18,339.25 L362.08,340.20 L361.99,341.14 L361.90,342.09 L361.82,343.04 L361.75,343.99 L361.69,344.94 L361.63,345.89 L361.58,346.84 L361.54,347.79 L361.51,348.74 L361.48,349.69 L361.46,350.65 L361.45,351.60 L361.45,352.55" fill="none" stroke="#1a1aff" stroke-width="1.1" stroke-dasharray="3,1.2"/>
<path d="M664.83,352.55 L664.82,351.12 L664.80,349.69 L664.77,348.27 L664.74,346.84 L664.68,345.41 L664.62,343.99 L664.55,342.56 L664.47,341.13 L664.37,339.71 L664.26,338.29 L664.15,336.86 L664.02,335.44 L663.88,334.02 L663.73,332.60 L663.56,331.18 L663.39,329.76 L663.20,328.35 L663.01,326.93 L662.80,325.52 L662.58,324.11 L662.35,322.70 L662.11,321.29 L661.86,319.89 L661.60,318.48 L661.33,317.08 L661.04,315.68 L660.75,314.29 L660.44,312.89 L660.12,311.50 L659.80,310.11 L659.46,308.72 L659.11,307.34 L658.75,305.96 L658.37,304.58 L657.99,303.20 L657.60,301.83 L657.19,300.46 L656.78,299.09 L656.35,297.73 L655.92,296.37 L655.47,295.01 L655.01,293.66 L654.54,292.31 L654.06,290.97 L653.57,289.63 L653.07,288.29 L652.56,286.95 L652.04,285.62 L651.51,284.30 L650.97,282.98 L650.42,281.66 L649.85,280.35 L649.28,279.04 L648.70,277.74 L648.10,276.44 L647.50,275.14 L646.89,273.85 L646.26,272.57 L645.63,271.29 L644.99,270.01 L644.33,268.74 L643.67,267.48 L642.99,266.22 L642.31,264.97 L641.62,263.72 L640.91,262.48 L640.20,261.24 L639.48,260.01 L638.74,258.78 L638.00,257.56 L637.25,256.35 L636.49,255.14 L635.72,253.93 L634.94,252.74 L634.15,251.55 L633.35,250.36 L632.54,249.19 L631.72,248.01 L630.90,246.85 L630.06,245.69 L629.22,244.54 L628.36,243.39 L627.50,242.26 L626.63,241.12 L625.75,240.00 L624.86,238.88 L623.96,237.77 L623.05,236.67 L622.14,235.57 L621.21,234.48 L620.28,233.40 L619.34,232.32 L618.39,231.26 L617.43,230.20 L616.47,229.14 L615.49,228.10 L614.51,227.06 L613.52,226.03 L612.52,225.01 L611.51,224.00 L610.50,222.99 L609.47,221.99 L608.44,221.01 L607.40,220.02 L606.36,219.05 L605.31,218.09 L604.24,217.13 L603.18,216.18 L602.10,215.24 L601.02,214.31 L599.93,213.39 L598.83,212.47 L597.72,211.56 L596.61,210.67 L595.49,209.78 L594.36,208.90 L593.23,208.03 L592.09,207.17 L590.94,206.31 L589.79,205.47 L588.63,204.64 L587.47,203.81 L586.29,202.99 L585.11,202.19 L583.93,201.39 L582.74,200.60 L581.54,199.82 L580.33,199.05 L579.12,198.29 L577.91,197.54 L576.69,196.80 L575.46,196.07 L574.22,195.35 L572.99,194.63 L571.74,193.93 L570.49,193.24 L569.24,192.55 L567.97,191.88 L566.71,191.22 L565.44,190.57 L564.16,189.92 L562.88,189.29 L561.59,188.67 L560.30,188.05 L559.01,187.45 L557.71,186.86 L556.40,186.27 L555.09,185.70 L553.78,185.14 L552.46,184.59 L551.14,184.05 L549.81,183.52 L548.48,183.00 L547.14,182.49 L545.80,181.99 L544.46,181.50 L543.11,181.02 L541.76,180.55 L540.41,180.09 L539.05,179.65 L537.69,179.21 L536.32,178.79 L534.95,178.37 L533.58,177.97 L532.21,177.58 L530.83,177.19 L529.45,176.82 L528.07,176.46 L526.68,176.11 L525.29,175.77 L523.90,175.45 L522.51,175.13 L521.11,174.82 L519.71,174.53 L518.31,174.24 L516.91,173.97 L515.50,173.71 L514.10,173.46 L512.69,173.22 L511.27,172.99 L509.86,172.77 L508.45,172.56 L507.03,172.37 L505.61,172.18 L504.19,172.01 L502.77,171.85 L501.35,171.70 L499.93,171.56 L498.51,171.43 L497.08,171.31 L495.66,171.20 L494.23,171.11 L492.80,171.02 L491.37,170.95 L489.95,170.89 L488.52,170.84 L487.09,170.80 L485.66,170.77 L484.23,170.76 L482.80,170.75 L481.37,170.76 L479.94,170.77 L478.51,170.80 L477.08,170.84 L475.65,170.89 L474.23,170.95 L472.80,171.02 L471.37,171.11 L469.94,171.20 L468.52,171.31 L467.09,171.43 L465.67,171.56 L464.25,171.70 L462.83,171.85 L461.41,172.01 L459.99,172.18 L458.57,172.37 L457.15,172.56 L455.74,172.77 L454.33,172.99 L452.91,173.22 L451.50,173.46 L450.10,173.71 L448.69,173.97 L447.29,174.24 L445.89,174.53 L444.49,174.82 L443.09,175.13 L441.70,175.45 L440.31,175.77 L438.92,176.11 L437.53,176.46 L436.15,176.82 L434.77,177.19 L433.39,177.58 L432.02,177.97 L430.65,178.37 L429.28,178.79 L427.91,179.21 L426.55,179.65 L425.19,180.09 L423.84,180.55 L422.49,181.02 L421.14,181.50 L419.80,181.99 L418.46,182.49 L417.12,183.00 L415.79,183.52 L414.46,184.05 L413.14,184.59 L411.82,185.14 L410.51,185.70 L409.20,186.27 L407.89,186.86 L406.59,187.45 L405.30,188.05 L404.01,188.67 L402.72,189.29 L401.44,189.92 L400.16,190.57 L398.89,191.22 L397.63,191.88 L396.36,192.55 L395.11,193.24 L393.86,193.93 L392.61,194.63 L391.38,195.35 L390.14,196.07 L388.91,196.80 L387.69,197.54 L386.48,198.29 L385.27,199.05 L384.06,199.82 L382.86,200.60 L381.67,201.39 L380.49,202.19 L379.31,202.99 L378.13,203.81 L376.97,204.64 L375.81,205.47 L374.66,206.31 L373.51,207.17 L372.37,208.03 L371.24,208.90 L370.11,209.78 L368.99,210.67 L367.88,211.56 L366.77,212.47 L365.67,213.39 L364.58,214.31 L363.50,215.24 L362.42,216.18" fill="none" stroke="#1a1aff" stroke-width="1.1" stroke-dasharray="3,1.2"/>
<path d="M557.80,122.01 L555.98,121.43 L554.16,120.87 L552.34,120.31 L550.51,119.77 L548.68,119.25 L546.84,118.74 L545.00,118.25 L543.16,117.77 L541.31,117.30 L539.46,116.85 L537.60,116.41 L535.74,115.99 L533.88,115.58 L532.02,115.19 L530.15,114.81 L528.28,114.44 L526.40,114.09 L524.53,113.76 L522.65,113.44 L520.77,113.13 L518.88,112.84 L517.00,112.57 L515.11,112.31 L513.22,112.06 L511.33,111.83 L509.43,111.61 L507.54,111.41 L505.64,111.23 L503.74,111.05 L501.84,110.90 L499.94,110.76 L498.04,110.63 L496.14,110.52 L494.23,110.42 L492.33,110.34 L490.42,110.27 L488.52,110.22 L486.61,110.18 L484.71,110.16 L482.80,110.15 L480.89,110.16 L478.99,110.18 L477.08,110.22 L475.18,110.27 L473.27,110.34 L471.37,110.42 L469.46,110.52 L467.56,110.63 L465.66,110.76 L463.76,110.90 L461.86,111.05 L459.96,111.23 L458.06,111.41 L456.17,111.61 L454.27,111.83 L452.38,112.06 L450.49,112.31 L448.60,112.57 L446.72,112.84 L444.83,113.13 L442.95,113.44 L441.07,113.76 L439.20,114.09 L437.32,114.44 L435.45,114.81 L433.58,115.19 L431.72,115.58 L429.86,115.99 L428.00,116.41 L426.14,116.85 L424.29,117.30 L422.44,117.77 L420.60,118.25 L418.76,118.74 L416.92,119.25 L415.09,119.77 L413.26,120.31 L411.44,120.87 L409.62,121.43 L407.80,122.01 L405.99,122.61 L404.19,123.22 L402.38,123.84 L400.59,124.48 L398.80,125.13 L397.01,125.80 L395.23,126.48 L393.46,127.17 L391.69,127.88 L389.92,128.60 L388.16,129.34 L386.41,130.09 L384.67,130.85 L382.93,131.63 L381.19,132.42 L379.46,133.22 L377.74,134.04 L376.03,134.87 L374.32,135.71 L372.62,136.57 L370.92,137.44 L369.23,138.33 L367.55,139.22 L365.88,140.13 L364.21,141.06 L362.55,141.99" fill="none" stroke="#1a1aff" stroke-width="1.1" stroke-dasharray="3,1.2"/>
<path d="M664.83,352.55 A303.38,303.00 0 0 0 361.45,49.55" fill="none" stroke="#111" stroke-width="1"/>
<line x1="361.45" y1="352.55" x2="361.45" y2="49.55" stroke="#555" stroke-width="1.3"/>
<line x1="361.45" y1="352.55" x2="664.83" y2="352.55" stroke="#555" stroke-width="1.3"/>
<text x="357.95" y="354.70" font-size="8" text-anchor="end" stroke="#000" stroke-width="0.15">0.0</text>
<text x="357.95" y="294.10" font-size="8" text-anchor="end" stroke="#000" stroke-width="0.15">0.5</text>
<text x="357.95" y="233.50" font-size="8" text-anchor="end" stroke="#000" stroke-width="0.15">1.0</text>
<text x="357.95" y="172.90" font-size="8" text-anchor="end" stroke="#000" stroke-width="0.15">1.5</text>
<text x="357.95" y="112.30" font-size="8" text-anchor="end" stroke="#000" stroke-width="0.15">2.0</text>
<text x="357.95" y="51.70" font-size="8" text-anchor="end" stroke="#000" stroke-width="0.15">2.5</text>
<text x="361.45" y="367.00" font-size="8" text-anchor="middle" stroke="#000" stroke-width="0.15">0.0</text>
<text x="422.12" y="367.00" font-size="8" text-anchor="middle" stroke="#000" stroke-width="0.15">0.5</text>
<text x="482.80" y="367.00" font-size="8" text-anchor="middle" stroke="#000" stroke-width="0.15">REF</text>
<text x="543.47" y="367.00" font-size="8" text-anchor="middle" stroke="#000" stroke-width="0.15">1.5</text>
<text x="604.15" y="367.00" font-size="8" text-anchor="middle" stroke="#000" stroke-width="0.15">2.0</text>
<text x="664.83" y="367.00" font-size="8" text-anchor="middle" stroke="#000" stroke-width="0.15">2.5</text>
<text x="361.45" y="38.25" font-size="9.6" text-anchor="middle" stroke="#000" stroke-width="0.15">0</text>
<text x="393.21" y="39.84" font-size="9.6" text-anchor="middle" stroke="#000" stroke-width="0.15">0.1</text>
<text x="424.97" y="44.67" font-size="9.6" text-anchor="middle" stroke="#000" stroke-width="0.15">0.2</text>
<text x="456.73" y="52.88" font-size="9.6" text-anchor="middle" stroke="#000" stroke-width="0.15">0.3</text>
<text x="488.49" y="64.76" font-size="9.6" text-anchor="middle" stroke="#000" stroke-width="0.15">0.4</text>
<text x="520.25" y="80.80" font-size="9.6" text-anchor="middle" stroke="#000" stroke-width="0.15">0.5</text>
<text x="552.01" y="101.77" font-size="9.6" text-anchor="middle" stroke="#000" stroke-width="0.15">0.6</text>
<text x="583.77" y="129.04" font-size="9.6" text-anchor="middle" stroke="#000" stroke-width="0.15">0.7</text>
<text x="615.53" y="165.29" font-size="9.6" text-anchor="middle" stroke="#000" stroke-width="0.15">0.8</text>
<text x="647.29" y="217.41" font-size="9.6" text-anchor="middle" stroke="#000" stroke-width="0.15">0.9</text>
<text x="663.17" y="256.68" font-size="9.6" text-anchor="middle" stroke="#000" stroke-width="0.15">0.95</text>
<text x="675.87" y="311.05" font-size="9.6" text-anchor="middle" stroke="#000" stroke-width="0.15">0.99</text>
<text x="679.05" y="355.85" font-size="9.6" text-anchor="middle" stroke="#000" stroke-width="0.15">1</text>
<text x="13.00" y="11.30" font-size="14" stroke="#000" stroke-width="0.15">(a) AGCM</text>
<text x="359.20" y="11.30" font-size="14" stroke="#000" stroke-width="0.15">(b) CGCM</text>
<text x="226.75" y="93.50" font-size="10" stroke="#000" stroke-width="0.15">Correlation coefficient</text>
<text x="99.75" y="382.60" font-size="10" stroke="#000" stroke-width="0.15">Standard Deviation (Normalized)</text>
<text x="19.75" y="128.80" font-size="10" text-anchor="middle" fill="#1a1aff" stroke="#1a1aff" stroke-width="0.15">2</text>
<text x="40.45" y="190.40" font-size="10" text-anchor="middle" fill="#1a1aff" stroke="#1a1aff" stroke-width="0.15">1.5</text>
<text x="69.25" y="243.60" font-size="10" text-anchor="middle" fill="#1a1aff" stroke="#1a1aff" stroke-width="0.15">1</text>
<text x="106.45" y="295.20" font-size="10" text-anchor="middle" fill="#1a1aff" stroke="#1a1aff" stroke-width="0.15">0.5</text>
<text x="573.45" y="93.50" font-size="10" stroke="#000" stroke-width="0.15">Correlation coefficient</text>
<text x="446.45" y="382.60" font-size="10" stroke="#000" stroke-width="0.15">Standard Deviation (Normalized)</text>
<text x="366.45" y="128.80" font-size="10" text-anchor="middle" fill="#1a1aff" stroke="#1a1aff" stroke-width="0.15">2</text>
<text x="387.15" y="190.40" font-size="10" text-anchor="middle" fill="#1a1aff" stroke="#1a1aff" stroke-width="0.15">1.5</text>
<text x="415.95" y="243.60" font-size="10" text-anchor="middle" fill="#1a1aff" stroke="#1a1aff" stroke-width="0.15">1</text>
<text x="453.15" y="295.20" font-size="10" text-anchor="middle" fill="#1a1aff" stroke="#1a1aff" stroke-width="0.15">0.5</text>
<text x="166.70" y="231.25" font-size="9.2" text-anchor="middle" fill="#ff2a2a" stroke="#ff2a2a" stroke-width="0.15">G</text>
<text x="170.00" y="231.25" font-size="9.2" text-anchor="middle" fill="#ff2a2a" stroke="#ff2a2a" stroke-width="0.15">E</text>
<text x="177.20" y="235.15" font-size="9.2" text-anchor="middle" fill="#ff2a2a" stroke="#ff2a2a" stroke-width="0.15">F</text>
<text x="185.20" y="237.95" font-size="9.2" text-anchor="middle" fill="#ff2a2a" stroke="#ff2a2a" stroke-width="0.15">B</text>
<text x="194.60" y="242.15" font-size="9.2" text-anchor="middle" fill="#ff2a2a" stroke="#ff2a2a" stroke-width="0.15">A</text>
<text x="160.20" y="262.75" font-size="9.2" text-anchor="middle" fill="#ff2a2a" stroke="#ff2a2a" stroke-width="0.15">D</text>
<text x="157.40" y="269.35" font-size="9.2" text-anchor="middle" fill="#ff2a2a" stroke="#ff2a2a" stroke-width="0.15">I</text>
<text x="163.50" y="277.45" font-size="9.2" text-anchor="middle" fill="#ff2a2a" stroke="#ff2a2a" stroke-width="0.15">H</text>
<text x="192.30" y="277.65" font-size="9.2" text-anchor="middle" fill="#ff2a2a" stroke="#ff2a2a" stroke-width="0.15">C</text>
<text x="154.80" y="300.25" font-size="9.2" text-anchor="middle" fill="#ff2a2a" stroke="#ff2a2a" stroke-width="0.15">J</text>
<text x="162.80" y="297.05" font-size="9.2" text-anchor="middle" fill="#ff2a2a" stroke="#ff2a2a" stroke-width="0.15">K</text>
<text x="560.10" y="194.65" font-size="9.2" text-anchor="middle" fill="#ff2a2a" stroke="#ff2a2a" stroke-width="0.15">Q</text>
<text x="563.80" y="203.15" font-size="9.2" text-anchor="middle" fill="#ff2a2a" stroke="#ff2a2a" stroke-width="0.15">R</text>
<text x="582.20" y="207.55" font-size="9.2" text-anchor="middle" fill="#ff2a2a" stroke="#ff2a2a" stroke-width="0.15">L</text>
<text x="596.30" y="227.45" font-size="9.2" text-anchor="middle" fill="#ff2a2a" stroke="#ff2a2a" stroke-width="0.15">M</text>
<text x="562.60" y="235.45" font-size="9.2" text-anchor="middle" fill="#ff2a2a" stroke="#ff2a2a" stroke-width="0.15">P</text>
<text x="554.60" y="265.45" font-size="9.2" text-anchor="middle" fill="#ff2a2a" stroke="#ff2a2a" stroke-width="0.15">T</text>
<text x="552.90" y="269.25" font-size="9.2" text-anchor="middle" fill="#ff2a2a" stroke="#ff2a2a" stroke-width="0.15">O</text>
<text x="577.60" y="273.55" font-size="9.2" text-anchor="middle" fill="#ff2a2a" stroke="#ff2a2a" stroke-width="0.15">N</text>
<text x="515.80" y="269.25" font-size="9.2" text-anchor="middle" fill="#ff2a2a" stroke="#ff2a2a" stroke-width="0.15">U</text>
<text x="515.70" y="272.05" font-size="9.2" text-anchor="middle" fill="#ff2a2a" stroke="#ff2a2a" stroke-width="0.15">V</text>
<text x="442.20" y="344.95" font-size="9.2" text-anchor="middle" fill="#ff2a2a" stroke="#ff2a2a" stroke-width="0.15">S</text>
<text x="197.00" y="414.80" font-size="10" fill="#ff2a2a" stroke="#ff2a2a" stroke-width="0.15">A:</text>
<text x="207.30" y="414.80" font-size="10" stroke="#000" stroke-width="0.15">MMEA</text>
<text x="249.30" y="414.80" font-size="10" fill="#ff2a2a" stroke="#ff2a2a" stroke-width="0.15">B:</text>
<text x="259.50" y="414.80" font-size="10" stroke="#000" stroke-width="0.15">CM-AH</text>
<text x="249.30" y="426.40" font-size="10" fill="#ff2a2a" stroke="#ff2a2a" stroke-width="0.15">C:</text>
<text x="259.50" y="426.40" font-size="10" stroke="#000" stroke-width="0.15">CM-AL</text>
<text x="249.30" y="438.00" font-size="10" fill="#ff2a2a" stroke="#ff2a2a" stroke-width="0.15">D:</text>
<text x="259.50" y="438.00" font-size="10" stroke="#000" stroke-width="0.15">CN-AH</text>
<text x="249.30" y="449.60" font-size="10" fill="#ff2a2a" stroke="#ff2a2a" stroke-width="0.15">E:</text>
<text x="259.50" y="449.60" font-size="10" stroke="#000" stroke-width="0.15">CN-AL</text>
<text x="249.30" y="461.20" font-size="10" fill="#ff2a2a" stroke="#ff2a2a" stroke-width="0.15">F:</text>
<text x="259.50" y="461.20" font-size="10" stroke="#000" stroke-width="0.15">Had-AH</text>
<text x="300.90" y="414.80" font-size="10" fill="#ff2a2a" stroke="#ff2a2a" stroke-width="0.15">G:</text>
<text x="311.80" y="414.80" font-size="10" stroke="#000" stroke-width="0.15">Had-AL</text>
<text x="300.90" y="426.40" font-size="10" fill="#ff2a2a" stroke="#ff2a2a" stroke-width="0.15">H:</text>
<text x="311.80" y="426.40" font-size="10" stroke="#000" stroke-width="0.15">EC-AH</text>
<text x="300.90" y="438.00" font-size="10" fill="#ff2a2a" stroke="#ff2a2a" stroke-width="0.15">I:</text>
<text x="311.80" y="438.00" font-size="10" stroke="#000" stroke-width="0.15">EC-AL</text>
<text x="300.90" y="449.60" font-size="10" fill="#ff2a2a" stroke="#ff2a2a" stroke-width="0.15">J:</text>
<text x="311.80" y="449.60" font-size="10" stroke="#000" stroke-width="0.15">MPI-AH</text>
<text x="300.90" y="461.20" font-size="10" fill="#ff2a2a" stroke="#ff2a2a" stroke-width="0.15">K:</text>
<text x="311.80" y="461.20" font-size="10" stroke="#000" stroke-width="0.15">MPI-AL</text>
<text x="353.10" y="414.80" font-size="10" fill="#ff2a2a" stroke="#ff2a2a" stroke-width="0.15">L:</text>
<text x="363.60" y="414.80" font-size="10" stroke="#000" stroke-width="0.15">MMEC</text>
<text x="404.70" y="414.80" font-size="10" fill="#ff2a2a" stroke="#ff2a2a" stroke-width="0.15">M:</text>
<text x="417.10" y="414.80" font-size="10" stroke="#000" stroke-width="0.15">CM-CH</text>
<text x="404.70" y="426.40" font-size="10" fill="#ff2a2a" stroke="#ff2a2a" stroke-width="0.15">N:</text>
<text x="415.70" y="426.40" font-size="10" stroke="#000" stroke-width="0.15">CM-CL</text>
<text x="404.70" y="438.00" font-size="10" fill="#ff2a2a" stroke="#ff2a2a" stroke-width="0.15">O:</text>
<text x="415.70" y="438.00" font-size="10" stroke="#000" stroke-width="0.15">CN-CH</text>
<text x="404.70" y="449.60" font-size="10" fill="#ff2a2a" stroke="#ff2a2a" stroke-width="0.15">P:</text>
<text x="415.70" y="449.60" font-size="10" stroke="#000" stroke-width="0.15">CN-CL</text>
<text x="404.70" y="461.20" font-size="10" fill="#ff2a2a" stroke="#ff2a2a" stroke-width="0.15">Q:</text>
<text x="415.70" y="461.20" font-size="10" stroke="#000" stroke-width="0.15">Had-CH</text>
<text x="456.90" y="414.80" font-size="10" fill="#ff2a2a" stroke="#ff2a2a" stroke-width="0.15">R:</text>
<text x="467.80" y="414.80" font-size="10" stroke="#000" stroke-width="0.15">Had-CL</text>
<text x="456.90" y="426.40" font-size="10" fill="#ff2a2a" stroke="#ff2a2a" stroke-width="0.15">S:</text>
<text x="467.80" y="426.40" font-size="10" stroke="#000" stroke-width="0.15">EC-CH</text>
<text x="456.90" y="438.00" font-size="10" fill="#ff2a2a" stroke="#ff2a2a" stroke-width="0.15">T:</text>
<text x="467.80" y="438.00" font-size="10" stroke="#000" stroke-width="0.15">EC-CL</text>
<text x="456.90" y="449.60" font-size="10" fill="#ff2a2a" stroke="#ff2a2a" stroke-width="0.15">U:</text>
<text x="467.80" y="449.60" font-size="10" stroke="#000" stroke-width="0.15">MPI-CH</text>
<text x="456.90" y="461.20" font-size="10" fill="#ff2a2a" stroke="#ff2a2a" stroke-width="0.15">V:</text>
<text x="467.80" y="461.20" font-size="10" stroke="#000" stroke-width="0.15">MPI-CL</text>
</svg>
</body></html>
